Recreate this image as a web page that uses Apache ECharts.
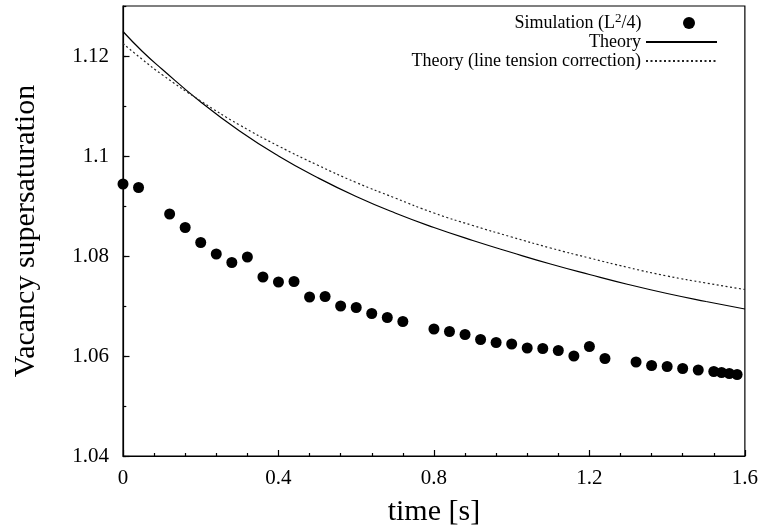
<!DOCTYPE html>
<html>
<head>
<meta charset="utf-8">
<script src="https://cdn.jsdelivr.net/npm/echarts@6/dist/echarts.min.js"></script>
<style>
html,body{margin:0;padding:0;background:#fff;}
#chart{width:761px;height:532px;}
</style>
</head>
<body>
<div id="chart"></div>
<script>
// Simulation (L^2/4) points
var simT = [0, 0.04, 0.12, 0.16, 0.20, 0.24, 0.28, 0.32, 0.36, 0.40, 0.44, 0.48, 0.52, 0.56, 0.60, 0.64, 0.68, 0.72,
            0.80, 0.84, 0.88, 0.92, 0.96, 1.00, 1.04, 1.08, 1.12, 1.16, 1.20, 1.24, 1.32, 1.36, 1.40, 1.44, 1.48,
            1.52, 1.54, 1.56, 1.58];
var simV = [1.0944, 1.0937, 1.0884, 1.0857, 1.0827, 1.0804, 1.0787, 1.0798, 1.0758, 1.0748, 1.0749, 1.0718, 1.0719,
            1.0700, 1.0697, 1.0685, 1.0677, 1.0669, 1.0654, 1.0649, 1.0643, 1.0633, 1.0627, 1.0624, 1.0616, 1.0615,
            1.0611, 1.0600, 1.0619, 1.0595, 1.0588, 1.0581, 1.0579, 1.0575, 1.0572, 1.0569, 1.0567, 1.0565, 1.0563];
// Theory curves
var theoryT = [0, 0.05, 0.1, 0.2, 0.3, 0.4, 0.5, 0.6, 0.7, 0.8, 0.9, 1.0, 1.1, 1.2, 1.3, 1.4, 1.5, 1.6];
var theoryV = [1.1249, 1.1209, 1.1174, 1.1108, 1.1050, 1.1000, 1.0957, 1.0919, 1.0886, 1.0857, 1.0831, 1.0807,
               1.0784, 1.0763, 1.0743, 1.0725, 1.0709, 1.0694];
var tensionV = [1.1225, 1.1193, 1.1163, 1.1110, 1.1062, 1.1020, 1.0982, 1.0947, 1.0916, 1.0886, 1.0861, 1.0838,
                1.0816, 1.0796, 1.0777, 1.0760, 1.0746, 1.0733];
var xTicks = [0, 0.4, 0.8, 1.2, 1.6];
var yTicks = [1.04, 1.06, 1.08, 1.1, 1.12];

var nameSim = 'Simulation (L2/4)';
var nameTheory = 'Theory';
var nameTension = 'Theory (line tension correction)';

function zip(a, b) { return a.map(function (v, i) { return [v, b[i]]; }); }

var FONT = "'Liberation Serif', 'Times New Roman', serif";
var chart = echarts.init(document.getElementById('chart'), null, {renderer: 'canvas'});
var legendBase = {
  orient: 'vertical', right: 43, align: 'right', padding: 0,
  itemWidth: 71, itemHeight: 12, selectedMode: false,
  itemStyle: {color: 'rgba(0,0,0,0)', borderColor: 'rgba(0,0,0,0)', borderWidth: 0, opacity: 0},
  textStyle: {fontFamily: FONT, fontSize: 18, color: '#000'}
};
chart.setOption({
  animation: false,
  backgroundColor: '#fff',
  grid: {left: 123, right: 16, top: 6, bottom: 76, show: true, borderColor: '#000', borderWidth: 1.2, backgroundColor: 'transparent'},
  legend: [
    {
      orient: 'vertical', right: 66, align: 'right', padding: 0,
      itemWidth: 71, itemHeight: 12, selectedMode: false,
      top: 12, data: [nameSim],
      formatter: function () { return '{a|Simulation (L}{s|2}{b|/4)}'; },
      textStyle: {fontFamily: FONT, fontSize: 18, color: '#000',
        rich: {a: {fontFamily: FONT, fontSize: 18, color: '#000'},
               b: {fontFamily: FONT, fontSize: 18, color: '#000', padding: [0, 7, 0, 0]},
               s: {fontFamily: FONT, fontSize: 13, color: '#000', padding: [0, 0, 9, 0]}}}
    },
    Object.assign({}, legendBase, {top: 33, data: [nameTheory]}),
    Object.assign({}, legendBase, {top: 52, data: [nameTension]})
  ],
  xAxis: {
    type: 'value', min: xTicks[0], max: xTicks[xTicks.length - 1], interval: 0.4,
    name: 'time [s]', nameLocation: 'middle', nameGap: 41,
    nameTextStyle: {fontFamily: FONT, fontSize: 30, color: '#000'},
    axisLine: {show: true, lineStyle: {color: '#000', width: 1.2}},
    axisTick: {show: true, inside: true, length: 6, lineStyle: {color: '#000', width: 1.2}},
    minorTick: {show: true, splitNumber: 5, length: 3, lineStyle: {color: '#000', width: 1.2}},
    splitLine: {show: false},
    axisLabel: {fontFamily: FONT, fontSize: 21, color: '#000', margin: 12,
      formatter: function (v) { return String(Math.round(v * 10) / 10); }}
  },
  yAxis: [{
    type: 'value', min: yTicks[0], max: 1.13, interval: 0.02,
    name: 'Vacancy supersaturation', nameLocation: 'middle', nameGap: 82,
    nameTextStyle: {fontFamily: FONT, fontSize: 30, color: '#000'},
    axisLine: {show: true, lineStyle: {color: '#000', width: 1.2}},
    axisTick: {show: true, inside: true, length: 6.5, lineStyle: {color: '#000', width: 1.2}},
    splitLine: {show: false},
    axisLabel: {fontFamily: FONT, fontSize: 21, color: '#000', margin: 14, showMaxLabel: false,
      formatter: function (v) { return yTicks.indexOf(Math.round(v * 100) / 100) >= 0 ? String(Math.round(v * 100) / 100) : ''; }}
  }, {
    type: 'value', min: yTicks[0], max: 1.13, interval: 0.01, position: 'left',
    axisLine: {show: false},
    axisTick: {show: true, inside: true, length: 3.3, lineStyle: {color: '#000', width: 1.2}},
    axisLabel: {show: false}, splitLine: {show: false}
  }],
  series: [
    {name: nameSim, type: 'scatter', data: zip(simT, simV), symbol: 'circle', symbolSize: 11,
     itemStyle: {color: '#000', opacity: 1}, z: 3},
    {name: nameTheory, type: 'line', data: zip(theoryT, theoryV), smooth: true, symbol: 'none',
     lineStyle: {color: '#000', width: 1.2, type: 'solid'}, itemStyle: {color: '#000'}},
    {name: nameTension, type: 'line', data: zip(theoryT, tensionV), smooth: true, symbol: 'none',
     lineStyle: {color: '#222', width: 1.2, type: [2, 2.5]}, itemStyle: {color: '#222'}}
  ]
});
</script>
</body>
</html>
